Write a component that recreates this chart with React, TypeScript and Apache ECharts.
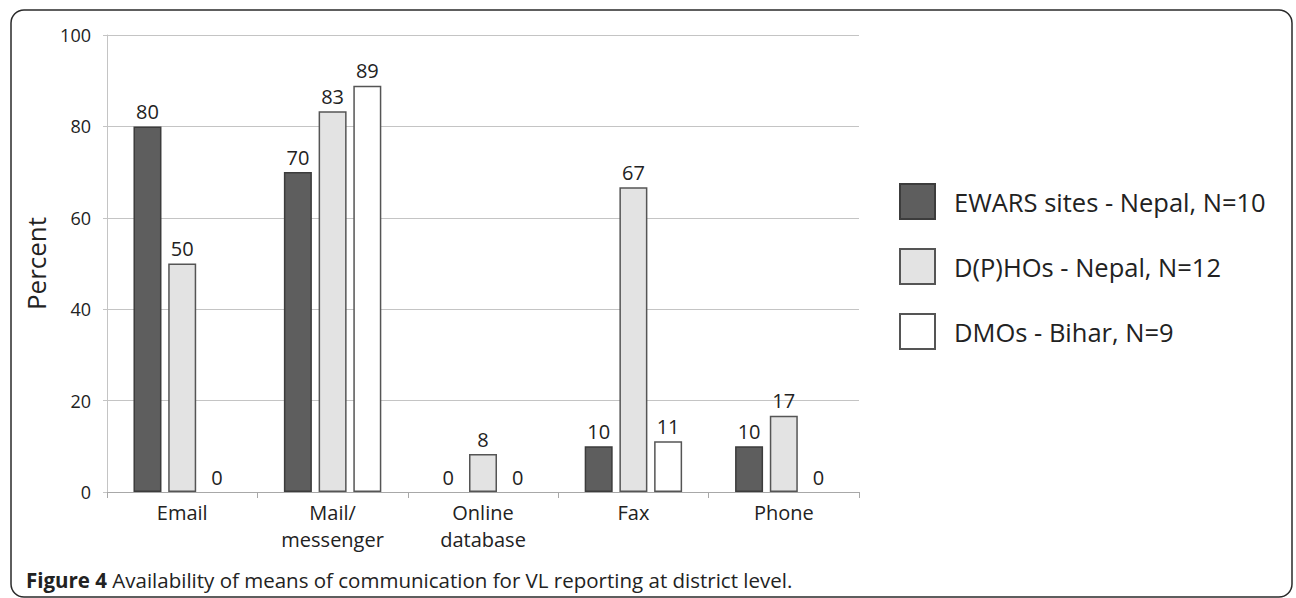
import React, { useEffect, useRef } from "react";
import * as echarts from "echarts";

const categories = ["Email", "Mail/\nmessenger", "Online\ndatabase", "Fax", "Phone"];
const seriesNames = ["EWARS sites - Nepal, N=10", "D(P)HOs - Nepal, N=12", "DMOs - Bihar, N=9"];
const ewars = [80, 70, 0, 10, 10];
const dphos = [50, 83.3, 8.3, 66.7, 16.7];
const dmos = [0, 88.9, 0, 11.1, 0];
const yTicks = [0, 20, 40, 60, 80, 100];
const captionBold = "Figure 4";
const caption = "Availability of means of communication for VL reporting at district level.";

const FONT = "'Open Sans', sans-serif";

export default function App() {
  const ref = useRef<HTMLDivElement>(null);
  useEffect(() => {
    const chart = echarts.init(ref.current!, undefined, { renderer: "svg" });
    const colors = [
      { fill: "#5e5e5e", border: "#3c3c3c" },
      { fill: "#e3e3e3", border: "#555555" },
      { fill: "#ffffff", border: "#555555" },
    ];
    const data = [ewars, dphos, dmos];
    chart.setOption({
      animation: false,
      textStyle: { fontFamily: FONT },
      grid: { left: 107, right: 437, top: 35, bottom: 106, containLabel: false },
      legend: {
        orient: "vertical",
        left: 899,
        top: 183,
        padding: 0,
        itemWidth: 35,
        itemHeight: 35,
        itemGap: 28,
        icon: "rect",
        textStyle: { fontSize: 25.5, color: "#222", fontFamily: FONT, padding: [0, 0, 0, 14] },
        data: seriesNames,
      },
      xAxis: {
        type: "category",
        data: categories,
        axisLine: { lineStyle: { color: "#a8a8a8", width: 1 } },
        axisTick: { show: true, alignWithLabel: false, length: 6, lineStyle: { color: "#a8a8a8" } },
        axisLabel: { fontSize: 20, color: "#222", margin: 7, lineHeight: 27, fontFamily: FONT },
      },
      yAxis: {
        type: "value",
        min: 0,
        max: 100,
        interval: 20,
        name: "Percent",
        nameLocation: "middle",
        nameGap: 52,
        nameRotate: 90,
        nameTextStyle: { fontSize: 26, color: "#222", fontFamily: FONT },
        axisLine: { show: true, lineStyle: { color: "#c4c4c4" } },
        axisTick: { show: true, length: 4, lineStyle: { color: "#c4c4c4" } },
        axisLabel: {
          fontSize: 18,
          color: "#222",
          margin: 16,
          fontFamily: FONT,
          formatter: (v: number) => (yTicks.includes(v) ? String(v) : ""),
        },
        splitLine: { lineStyle: { color: "#c4c4c4", width: 1 } },
      },
      series: seriesNames.map((name, i) => ({
        name,
        type: "bar",
        data: data[i].map((v) =>
          v === 0 ? { value: v, itemStyle: { borderWidth: 0, opacity: 0 } } : v
        ),
        barWidth: 28,
        barGap: "24%",
        itemStyle: { color: colors[i].fill, borderColor: colors[i].border, borderWidth: 1.5 },
        label: {
          show: true,
          position: "top",
          distance: 5,
          fontSize: 20,
          color: "#222",
          opacity: 1,
          fontFamily: FONT,
          formatter: (p: any) => String(Math.round(p.value)),
        },
      })),
      graphic: [
        {
          type: "rect",
          shape: { x: 11, y: 10, width: 1281, height: 587, r: 13 },
          style: { fill: "none", stroke: "#2a2a2a", lineWidth: 1.5 },
          silent: true,
        },
        {
          type: "text",
          left: 26,
          top: 569,
          style: {
            text: "{b|" + captionBold + "} " + caption,
            fontSize: 20.5,
            fill: "#222",
            fontFamily: FONT,
            rich: {
              b: { fontWeight: "bold", fontSize: 20.5, fontFamily: FONT, fill: "#222" },
            },
          },
        },
      ],
    });
    return () => chart.dispose();
  }, []);
  return (
    <div
      ref={ref}
      style={{ position: "fixed", left: 0, top: 0, width: 1296, height: 598, background: "#fff" }}
    />
  );
}
